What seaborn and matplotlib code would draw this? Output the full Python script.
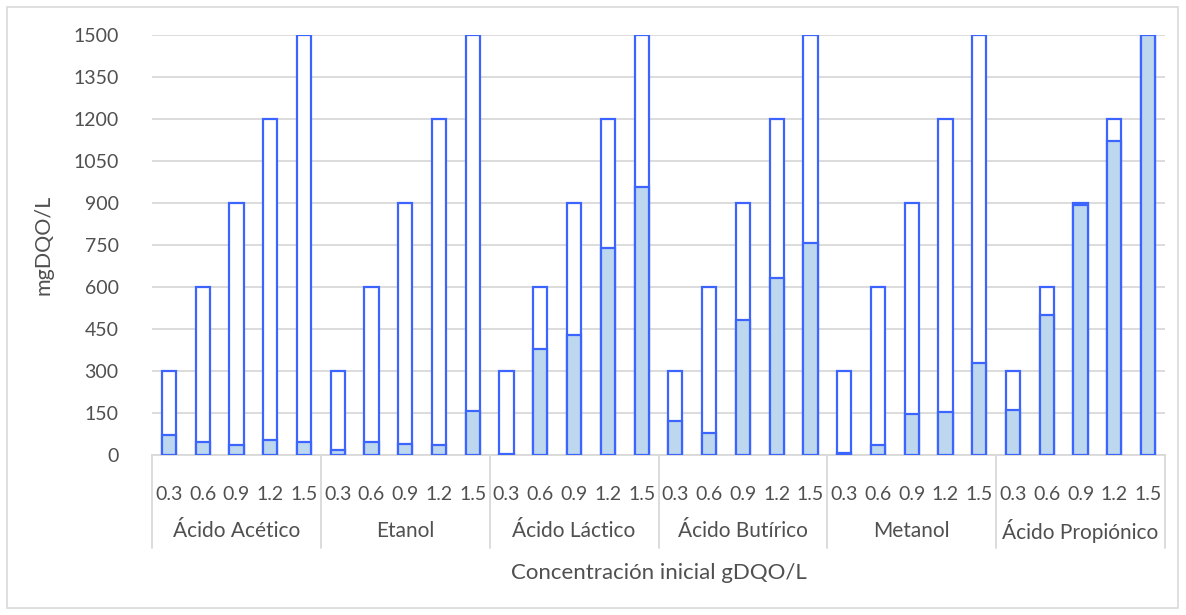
import matplotlib
matplotlib.use("Agg")
import matplotlib.pyplot as plt
import matplotlib.transforms as mtransforms
from matplotlib.patches import Rectangle
import seaborn as sns
import pandas as pd
import numpy as np

groups = ["Ácido Acético", "Etanol", "Ácido Láctico", "Ácido Butírico", "Metanol", "Ácido Propiónico"]
concs = ["0.3", "0.6", "0.9", "1.2", "1.5"]
initial = [300, 600, 900, 1200, 1500]
consumed_acetico = [73, 45, 34, 52, 46]
consumed_etanol = [19, 47, 41, 36, 157]
consumed_lactico = [2, 379, 430, 740, 958]
consumed_butirico = [121, 79, 481, 631, 758]
consumed_metanol = [8, 36, 148, 152, 327]
consumed_propionico = [161, 501, 892, 1120, 1500]
consumed = [consumed_acetico, consumed_etanol, consumed_lactico,
            consumed_butirico, consumed_metanol, consumed_propionico]

rows = []
for g, vals in zip(groups, consumed):
    for c, tot, v in zip(concs, initial, vals):
        rows.append({"key": f"{g}|{c}", "group": g, "conc": c, "total": tot, "value": v})
df = pd.DataFrame(rows)
order = list(df["key"])

sns.set_theme(style="white")
plt.rcParams["font.family"] = ["Lato", "DejaVu Sans"]

EDGE = "#3c64ff"
FILL = "#bdd7ee"
GRID = "#d9d9d9"
TXT = "#505050"

fig = plt.figure(figsize=(11.86, 6.15), dpi=100)
ax = fig.add_axes([152/1186, 160/615, (1165-152)/1186, 420/615])

sns.barplot(data=df, x="key", y="total", order=order, color="white", width=0.42,
            edgecolor=EDGE, linewidth=1.6, ax=ax, zorder=3, saturation=1)
sns.barplot(data=df, x="key", y="value", order=order, color=FILL, width=0.42,
            edgecolor=EDGE, linewidth=1.6, ax=ax, zorder=4, saturation=1)

ax.set_ylim(0, 1500)
ax.set_xlim(-0.5, len(order) - 0.5)
ax.set_yticks(np.arange(0, 1501, 150))
ax.yaxis.grid(True, color=GRID, linewidth=1.3, zorder=0)
ax.set_axisbelow(True)
for s in ["left", "right", "top"]:
    ax.spines[s].set_visible(False)
ax.spines["bottom"].set_color(GRID)
ax.spines["bottom"].set_linewidth(1.3)
ax.tick_params(axis="y", length=0, pad=24, labelsize=14, labelcolor=TXT)
ax.tick_params(axis="x", length=0, pad=22, labelsize=14, labelcolor=TXT)
ax.set_xticks(range(len(order)))
ax.set_xticklabels(list(df["conc"]))
ax.set_xlabel("")
ax.set_ylabel("mgDQO/L", fontsize=15.5, color=TXT, labelpad=14)

trans = mtransforms.blended_transform_factory(ax.transData, ax.transAxes)
n = len(concs)
for i, g in enumerate(groups):
    center = i * n + (n - 1) / 2
    ax.text(center, -76/420, g, transform=trans, ha="center", va="center",
            fontsize=15, color=TXT)
for i in range(len(groups) + 1):
    xb = i * n - 0.5
    ax.plot([xb, xb], [0, -93/420], transform=trans, color=GRID, lw=1.3, clip_on=False)

fig.text((152 + 1165) / 2 / 1186, 1 - 573/615, "Concentración inicial gDQO/L",
         ha="center", va="center", fontsize=16, color=TXT)

fig.patches.append(Rectangle((7/1186, 7/615), 1171/1186, 601/615, transform=fig.transFigure,
                             fill=False, edgecolor=GRID, linewidth=1.2))

fig.savefig("out.png", dpi=100, facecolor="white")
